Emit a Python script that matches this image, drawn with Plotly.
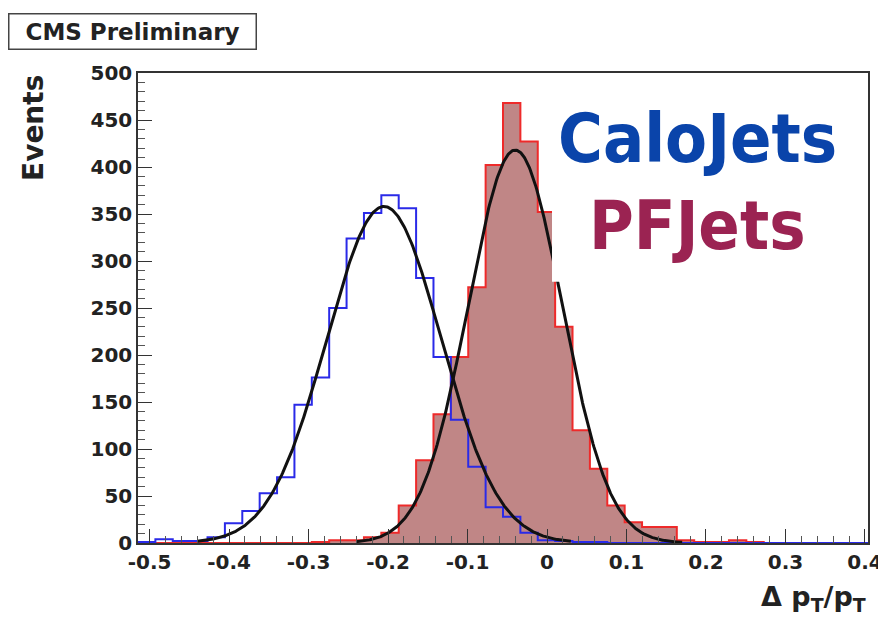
import numpy as np
import plotly.graph_objects as go

# ---- data ----
x_min = -0.5145
x_max = 0.4038
n_bins = 42
calo_counts = [1, 4, 2, 2, 6, 21, 34, 53, 70, 147, 176, 250, 324, 351, 370, 356, 282,
               198, 131, 81, 38, 28, 11, 3, 2, 1, 1, 0, 0, 0, 0, 0, 0, 0, 0, 0, 0, 0,
               0, 0, 0, 0]
pf_counts = [0, 0, 0, 0, 0, 0, 0, 0, 0, 0, 1, 3, 3, 6, 11, 40, 88, 137, 198, 272, 402,
             468, 427, 352, 230, 120, 79, 40, 22, 17, 17, 3, 1, 1, 3, 1, 0, 0, 0, 0, 0, 0]
# Gaussian fit parameters: amplitude, mean, sigma, fit range
calo_fit = [358, -0.205, 0.072, -0.44, 0.03]
pf_fit = [418, -0.040, 0.059, -0.24, 0.17]
x_ticks = [-0.5, -0.4, -0.3, -0.2, -0.1, 0, 0.1, 0.2, 0.3, 0.4]
x_ticktext = ["-0.5", "-0.4", "-0.3", "-0.2", "-0.1", "0", "0.1", "0.2", "0.3", "0.4"]
y_ticks = [0, 50, 100, 150, 200, 250, 300, 350, 400, 450, 500]

edges = np.linspace(x_min, x_max, n_bins + 1)


def step_xy(counts):
    xs = [edges[0]] + list(edges[:-1]) + [edges[-1], edges[-1]]
    ys = [0] + list(counts) + [counts[-1], 0]
    return xs, ys


def gauss(p):
    a, m, s, lo, hi = p
    xx = np.linspace(lo, hi, 400)
    return xx, a * np.exp(-0.5 * ((xx - m) / s) ** 2)


fig = go.Figure()

px_, py_ = step_xy(pf_counts)
fig.add_trace(go.Scatter(x=px_, y=py_, mode="lines", line_shape="hv",
                         line=dict(color="#ee2a2a", width=2),
                         fill="tozeroy", fillcolor="rgb(192,134,134)",
                         showlegend=False, hoverinfo="skip"))
cx_, cy_ = step_xy(calo_counts)
fig.add_trace(go.Scatter(x=cx_, y=cy_, mode="lines", line_shape="hv",
                         line=dict(color="#2a2ae8", width=2),
                         showlegend=False, hoverinfo="skip"))
for p in (calo_fit, pf_fit):
    gx, gy = gauss(p)
    fig.add_trace(go.Scatter(x=gx, y=gy, mode="lines",
                             line=dict(color="#111111", width=3),
                             showlegend=False, hoverinfo="skip"))

# white label box covering the upper right
fig.add_shape(type="rect", xref="x", yref="y", x0=0.0063, x1=0.4025, y0=278, y1=499,
              fillcolor="white", line=dict(width=0), layer="above")

tickfont = dict(family="DejaVu Sans", size=20, color="#222222", weight="bold")
fig.update_xaxes(range=[x_min, x_max], tickvals=x_ticks, ticktext=x_ticktext,
                 ticks="inside", ticklen=14, tickwidth=1.2, tickcolor="#333",
                 minor=dict(dtick=0.02, tick0=0, ticks="inside", ticklen=7,
                            tickcolor="#555", tickwidth=1),
                 showline=True, linecolor="#333", linewidth=1.5, mirror=True,
                 showgrid=False, zeroline=False, tickfont=tickfont,
                 ticklabeloverflow="allow", automargin=False)
fig.update_yaxes(range=[0, 500], tickvals=y_ticks,
                 ticks="inside", ticklen=14, tickwidth=1.2, tickcolor="#333",
                 minor=dict(dtick=10, ticks="inside", ticklen=7,
                            tickcolor="#555", tickwidth=1),
                 showline=True, linecolor="#333", linewidth=1.5, mirror=True,
                 showgrid=False, zeroline=False, tickfont=tickfont,
                 ticklabeloverflow="allow", automargin=False)

fig.add_annotation(text="<b>CMS Preliminary</b>", xref="paper", yref="paper",
                   x=(8 - 138) / 730, y=(543 - 13) / 470, xanchor="left", yanchor="top",
                   showarrow=False, font=dict(family="DejaVu Sans", size=23, color="#222"),
                   bordercolor="#444", borderwidth=1.5, borderpad=3, bgcolor="white",
                   width=240, height=28)
fig.add_annotation(text="<b>Events</b>", xref="paper", yref="paper",
                   x=(33 - 138) / 730, y=(543 - 128) / 470, textangle=-90,
                   xanchor="center", yanchor="middle",
                   showarrow=False, font=dict(family="DejaVu Sans", size=28, color="#222"))
fig.add_annotation(text="<b>Δ p<sub>T</sub>/p<sub>T</sub></b>", xref="paper", yref="paper",
                   x=1.0, y=(543 - 598) / 470, xanchor="right", yanchor="middle",
                   showarrow=False, font=dict(family="DejaVu Sans", size=27, color="#222"))
fig.add_annotation(text="<b>CaloJets</b>", xref="x", yref="y", x=0.189, y=430,
                   xanchor="center", yanchor="middle", showarrow=False,
                   font=dict(family="DejaVu Sans Condensed", size=68, color="#0a44aa"))
fig.add_annotation(text="<b>PFJets</b>", xref="x", yref="y", x=0.189, y=338,
                   xanchor="center", yanchor="middle", showarrow=False,
                   font=dict(family="DejaVu Sans Condensed", size=68, color="#9b2352"))

fig.update_layout(width=878, height=623, margin=dict(l=138, r=10, t=73, b=80),
                  paper_bgcolor="white", plot_bgcolor="white", showlegend=False)
fig.write_html("out.html")
